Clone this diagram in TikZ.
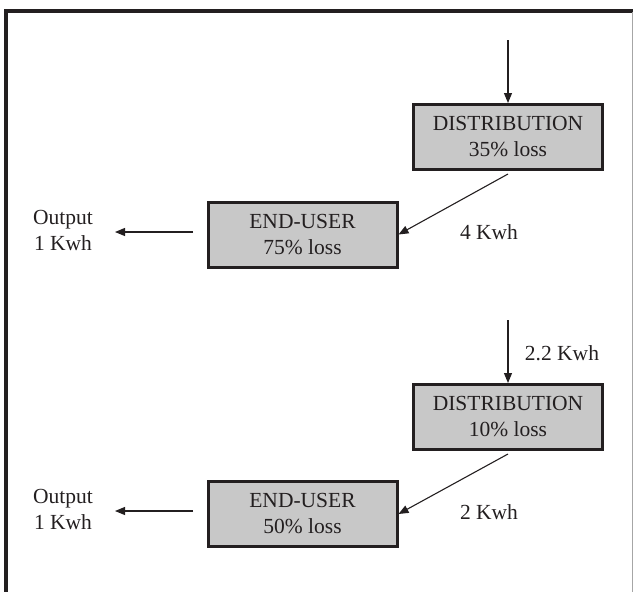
\documentclass[tikz,border=0pt]{standalone}
\usepackage{fontspec}
\setmainfont{Liberation Serif}
\usetikzlibrary{arrows.meta}
\definecolor{ink}{HTML}{231F20}
\definecolor{boxfill}{HTML}{C8C8C8}
\begin{document}
\begin{tikzpicture}[x=1pt,y=-1pt,
  every node/.style={font=\fontsize{21.5}{26}\selectfont, text=ink, align=center},
  stage/.style={draw=ink, fill=boxfill, line width=3pt, minimum width=189pt, minimum height=65pt, inner sep=0pt},
  arr/.style={draw=ink, line width=1.1pt, -{Triangle[length=10pt,width=8pt]}},
  lbl/.style={inner sep=0pt}]
\useasboundingbox (0,0) rectangle (633,592);
% frame
\draw[ink, line width=4pt] (6,592) -- (6,10.5) -- (633,10.5);
\draw[gray!70, line width=1pt] (632,12) -- (632,592);
% upper chain
\coordinate (s1) at (508,40);
\node[stage] (d1) at (508,137) {DISTRIBUTION\\35\% loss};
\node[stage] (e1) at (302.5,234.5) {END-USER\\75\% loss};
\node[lbl] (o1) at (63,230) {Output\\1 Kwh};
\coordinate (t1) at (115,232);
\coordinate (f1) at (193,232);
\node[lbl] (k1) at (489,232) {4 Kwh};
\draw[arr] (s1) -- (d1.north);
\draw[arr] ([yshift=-3pt]d1.south) -- (e1.east);
\draw[arr] (f1) -- (t1);
% lower chain
\coordinate (s2) at (508,320);
\node[stage] (d2) at (508,417) {DISTRIBUTION\\10\% loss};
\node[stage] (e2) at (302.5,514) {END-USER\\50\% loss};
\node[lbl] (o2) at (63,509) {Output\\1 Kwh};
\coordinate (t2) at (115,511);
\coordinate (f2) at (193,511);
\node[lbl] (k2) at (489,512) {2 Kwh};
\node[lbl] (k3) at (562,353) {2.2 Kwh};
\draw[arr] (s2) -- (d2.north);
\draw[arr] ([yshift=-3pt]d2.south) -- (e2.east);
\draw[arr] (f2) -- (t2);
\end{tikzpicture}
\end{document}
